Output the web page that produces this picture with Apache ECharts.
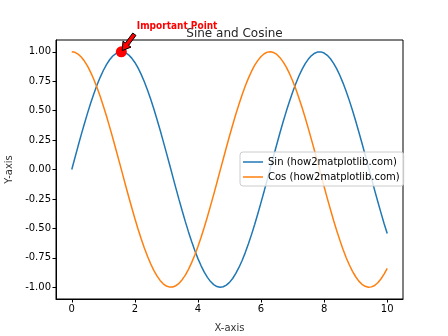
<!DOCTYPE html>
<html><head><meta charset="utf-8">
<script src="https://cdn.jsdelivr.net/npm/echarts@6/dist/echarts.min.js"></script>
<style>html,body{margin:0;padding:0;background:#fff}#c{width:448px;height:336px}</style>
</head><body><div id="c"></div>
<script>
var xValues = [0,0.1,0.2,0.3,0.4,0.5,0.6,0.7,0.8,0.9,1,1.1,1.2,1.3,1.4,1.5,1.6,1.7,1.8,1.9,2,2.1,2.2,2.3,2.4,2.5,2.6,2.7,2.8,2.9,3,3.1,3.2,3.3,3.4,3.5,3.6,3.7,3.8,3.9,4,4.1,4.2,4.3,4.4,4.5,4.6,4.7,4.8,4.9,5,5.1,5.2,5.3,5.4,5.5,5.6,5.7,5.8,5.9,6,6.1,6.2,6.3,6.4,6.5,6.6,6.7,6.8,6.9,7,7.1,7.2,7.3,7.4,7.5,7.6,7.7,7.8,7.9,8,8.1,8.2,8.3,8.4,8.5,8.6,8.7,8.8,8.9,9,9.1,9.2,9.3,9.4,9.5,9.6,9.7,9.8,9.9,10];
var sinValues = [0.000,0.100,0.199,0.296,0.389,0.479,0.565,0.644,0.717,0.783,0.841,0.891,0.932,0.964,0.985,0.997,1.000,0.992,0.974,0.946,0.909,0.863,0.808,0.746,0.675,0.598,0.516,0.427,0.335,0.239,0.141,0.042,-0.058,-0.158,-0.256,-0.351,-0.443,-0.530,-0.612,-0.688,-0.757,-0.818,-0.872,-0.916,-0.952,-0.978,-0.994,-1.000,-0.996,-0.982,-0.959,-0.926,-0.883,-0.832,-0.773,-0.706,-0.631,-0.551,-0.465,-0.374,-0.279,-0.182,-0.083,0.017,0.117,0.215,0.312,0.405,0.494,0.578,0.657,0.729,0.794,0.850,0.899,0.938,0.968,0.988,0.999,0.999,0.989,0.970,0.941,0.902,0.855,0.798,0.734,0.663,0.585,0.501,0.412,0.319,0.223,0.124,0.025,-0.075,-0.175,-0.272,-0.366,-0.458,-0.544];
var cosValues = [1.000,0.995,0.980,0.955,0.921,0.878,0.825,0.765,0.697,0.622,0.540,0.454,0.362,0.267,0.170,0.071,-0.029,-0.129,-0.227,-0.323,-0.416,-0.505,-0.589,-0.666,-0.737,-0.801,-0.857,-0.904,-0.942,-0.971,-0.990,-0.999,-0.998,-0.987,-0.967,-0.936,-0.897,-0.848,-0.791,-0.726,-0.654,-0.575,-0.490,-0.401,-0.307,-0.211,-0.112,-0.012,0.087,0.187,0.284,0.378,0.469,0.554,0.635,0.709,0.776,0.835,0.886,0.927,0.960,0.983,0.997,1.000,0.993,0.977,0.950,0.914,0.870,0.816,0.754,0.685,0.608,0.526,0.439,0.347,0.252,0.155,0.055,-0.045,-0.146,-0.245,-0.340,-0.433,-0.520,-0.602,-0.679,-0.749,-0.811,-0.865,-0.911,-0.948,-0.975,-0.992,-1.000,-0.997,-0.985,-0.962,-0.930,-0.889,-0.839];
var xTicks = [0,2,4,6,8,10];
var yTicks = [-1,-0.75,-0.5,-0.25,0,0.25,0.5,0.75,1];
var annotationPoint = [1.5708, 1.0];
var annotationText = [2, 1.2];
var seriesNames = ['Sin (how2matplotlib.com)', 'Cos (how2matplotlib.com)'];

var FONT = 'DejaVu Sans';
function pair(xs, ys){ return xs.map(function(x,i){ return [x, ys[i]]; }); }

var chart = echarts.init(document.getElementById('c'), null, {renderer:'canvas'});
chart.setOption({
  animation: false,
  backgroundColor: '#fff',
  textStyle: {fontFamily: FONT},
  title: {text: 'Sine and Cosine', left: 229.5, top: 23, textAlign: 'center',
    textStyle: {fontFamily: FONT, fontSize: 12, fontWeight: 'normal', color: '#262626'}},
  grid: {left: 56, right: 45, top: 40, bottom: 37, show: true, borderColor: '#000', borderWidth: 1,
    backgroundColor: 'transparent', containLabel: false, outerBoundsMode: 'none'},
  legend: {
    left: 240, top: 152, orient: 'vertical', padding: [5, 4, 4, 3], itemGap: 5,
    backgroundColor: 'rgba(255,255,255,0.8)', borderColor: '#ccc', borderWidth: 1, borderRadius: 3,
    icon: 'rect', itemWidth: 20, itemHeight: 1.5,
    textStyle: {fontFamily: FONT, fontSize: 10, color: '#000'},
    data: seriesNames
  },
  xAxis: {
    type: 'value', min: -0.5, max: 10.5,
    name: 'X-axis', nameLocation: 'middle', nameGap: 24,
    nameTextStyle: {fontFamily: FONT, fontSize: 10, color: '#333'},
    axisLine: {show: true, onZero: false, lineStyle: {color: '#000', width: 1}},
    axisTick: {show: true, length: 3.5, lineStyle: {color: '#000'}, customValues: xTicks},
    axisLabel: {customValues: xTicks, fontFamily: FONT, fontSize: 10, color: '#000', margin: 5},
    splitLine: {show: false}
  },
  yAxis: {
    type: 'value', min: -1.1, max: 1.1,
    name: 'Y-axis', nameLocation: 'middle', nameGap: 40, nameRotate: 90,
    nameTextStyle: {fontFamily: FONT, fontSize: 10, color: '#333'},
    axisLine: {show: true, onZero: false, lineStyle: {color: '#000', width: 1}},
    axisTick: {show: true, length: 3.5, lineStyle: {color: '#000'}, customValues: yTicks},
    axisLabel: {customValues: yTicks, fontFamily: FONT, fontSize: 10, color: '#000', margin: 5,
      formatter: function(v){ return v.toFixed(2); }},
    splitLine: {show: false}
  },
  series: [
    {name: seriesNames[0], type: 'line', data: pair(xValues, sinValues), showSymbol: false, smooth: false,
      lineStyle: {color: '#1f77b4', width: 1.5}, itemStyle: {color: '#1f77b4'}},
    {name: seriesNames[1], type: 'line', data: pair(xValues, cosValues), showSymbol: false, smooth: false,
      lineStyle: {color: '#ff7f0e', width: 1.5}, itemStyle: {color: '#ff7f0e'}},
    {name: 'point', type: 'scatter', data: [annotationPoint], symbolSize: 11, z: 5,
      itemStyle: {color: '#ff0000', opacity: 1}}
  ]
});

var tip = chart.convertToPixel({gridIndex: 0}, annotationPoint);
var txt = chart.convertToPixel({gridIndex: 0}, annotationText);
var tail = [txt[0] - 0.5, txt[1] + 6];
var dx = tip[0] - tail[0], dy = tip[1] - tail[1];
var L = Math.sqrt(dx*dx + dy*dy);
var ux = dx / L, uy = dy / L, nx = -uy, ny = ux;
var endTip = [tip[0] - ux * 1.5, tip[1] - uy * 1.5];
var headLen = 8, headW = 5, shaftW = 2;
var base = [endTip[0] - ux * headLen, endTip[1] - uy * headLen];
var pts = [
  [tail[0] + nx*shaftW, tail[1] + ny*shaftW],
  [base[0] + nx*shaftW, base[1] + ny*shaftW],
  [base[0] + nx*headW, base[1] + ny*headW],
  endTip,
  [base[0] - nx*headW, base[1] - ny*headW],
  [base[0] - nx*shaftW, base[1] - ny*shaftW],
  [tail[0] - nx*shaftW, tail[1] - ny*shaftW]
];
chart.setOption({
  graphic: [
    {type: 'polygon', shape: {points: pts}, style: {fill: '#ff0000', stroke: '#000', lineWidth: 1}, z: 100},
    {type: 'text', x: txt[0] + 2, y: txt[1] + 3, style: {text: 'Important Point', fill: '#ff0000',
      font: 'bold 10px "DejaVu Sans Condensed", "DejaVu Sans"', textAlign: 'left', textVerticalAlign: 'bottom'}, z: 101}
  ]
});
</script></body></html>
